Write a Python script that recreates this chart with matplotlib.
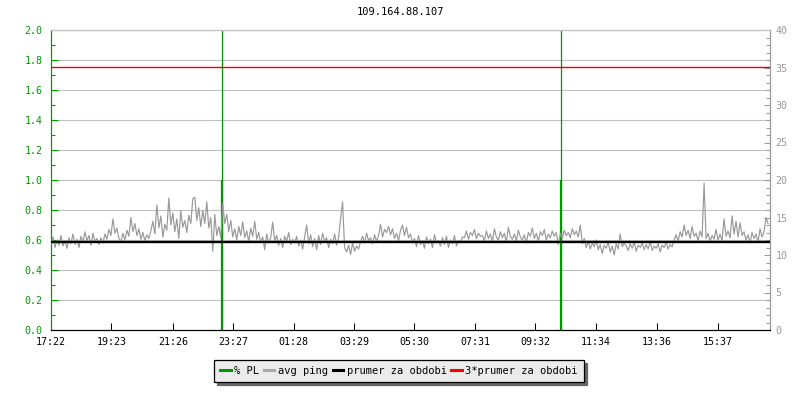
import numpy as np
import matplotlib
matplotlib.use("Agg")
import matplotlib.pyplot as plt
from matplotlib.lines import Line2D
from matplotlib.ticker import MultipleLocator, FormatStrFormatter

plt.rcParams.update({
    "font.family": "DejaVu Sans Mono",
    "font.size": 7.2,
})

TITLE = "109.164.88.107"

# avg ping [ms], one sample every 4 minutes starting 17:22
ping = [
    # 17:22 - 19:46
    11.6, 12.4, 11.0, 12.0, 11.3, 12.6, 11.2, 11.9, 10.9, 12.3, 11.5, 12.8, 11.4, 12.1, 11.0, 12.5,
    11.7, 13.1, 11.9, 12.6, 11.3, 12.9, 11.8, 12.2, 11.4,
    12.3, 11.6, 12.8, 12.1, 13.4, 12.6, 14.8, 12.9, 13.6, 12.2, 11.8, 12.9, 12.0, 13.3, 12.5, 15.0,
    13.1, 14.2, 12.6, 13.5, 12.1, 13.0, 11.9, 12.7, 12.2,
    13.2, 14.5, 12.8, 16.7, 13.6, 15.2, 12.4, 14.1, 13.3, 17.6, 14.0, 15.6, 13.1, 14.8, 12.2, 15.9,
    13.7, 14.6, 13.0, 15.3, 14.2, 17.5,
    # 19:46 - 22:10
    17.7, 14.6, 16.3, 13.8, 15.9, 14.2, 17.1, 13.6, 15.0, 10.5, 15.4, 12.6, 13.8, 12.3,
    16.8, 14.2, 15.4,
    13.1, 14.6, 12.4, 13.5, 12.0, 13.8, 12.6, 14.4, 12.3, 13.2, 11.8, 13.6, 12.5, 14.5, 12.1, 13.0, 11.7,
    12.4, 10.7, 12.8, 11.6, 12.3, 14.4, 11.9, 12.6, 11.3, 12.2, 11.0, 12.5, 11.8, 13.0, 11.4, 12.1,
    11.6, 12.5, 11.2, 12.0, 10.8, 12.4, 14.0, 11.5, 12.7, 11.1, 12.2, 10.7, 12.6, 11.4, 12.9, 11.8,
    12.3, 11.0, 12.1, 11.5, 12.8, 11.3,
    # 22:10 - 00:34
    12.3, 14.9, 17.1,
    11.0, 10.4, 11.3, 10.1, 11.6, 10.5, 11.2, 10.8,
    11.8, 12.5, 11.6, 12.9, 11.9, 12.3, 11.5, 12.7, 11.8,
    12.6, 14.1, 12.4, 13.4, 13.0, 13.8, 12.7, 13.5, 12.2, 12.9, 11.9, 13.3, 14.0, 12.6, 13.7, 12.3, 12.8,
    11.6, 12.2, 11.1, 12.6, 11.4, 11.9, 10.9, 12.4, 11.5, 12.1, 11.0, 12.7, 11.6, 11.9, 11.2, 12.3,
    11.4, 12.5, 11.0, 12.0, 11.5, 12.6, 11.2, 11.9, 11.6, 12.4,
    12.3, 13.2, 12.1, 13.0, 12.6, 13.4, 12.2, 12.9, 12.5,
    # 00:34 - 02:58
    12.6, 11.9, 13.2, 12.2, 12.8, 11.8, 13.5, 12.4, 12.0, 13.1, 12.3, 12.9, 11.7, 13.7, 12.5, 12.1,
    12.8, 11.9, 13.3, 12.4, 12.0, 12.7, 11.6, 13.0, 12.5, 13.6, 12.2, 12.9, 11.8, 13.1, 12.6, 13.4,
    12.0, 12.8, 12.3, 13.2, 12.5, 13.0,
    11.4, 12.9, 12.2, 13.3, 12.6, 13.0, 12.3, 13.5, 12.7, 13.2, 12.4, 14.0,
    11.5, 12.2, 11.0, 11.8, 10.8, 11.6, 11.1, 12.0, 10.7, 11.4, 10.2, 11.3, 10.9, 11.7, 10.4, 11.2,
    10.0, 11.5, 10.8, 12.8, 11.1, 11.6,
    # 02:58 - 05:22
    11.2, 10.6, 11.5, 10.9, 11.7, 10.5, 11.3, 11.0, 11.6, 10.7, 11.4, 10.8, 11.8, 10.6, 11.2, 10.9,
    11.5, 10.4, 11.3, 11.0, 11.7, 10.8, 11.4, 11.1,
    12.0, 12.7, 11.8, 13.1, 12.4, 14.0, 12.6, 13.3, 12.2, 13.8, 12.5, 12.9, 11.9, 13.2, 12.4,
    19.6,
    12.2, 12.9, 11.8, 12.6, 12.1, 13.4, 12.0, 12.8, 11.9, 14.8, 12.5, 13.2, 12.3, 15.2, 12.8, 14.5,
    12.4, 14.3, 12.6, 13.1, 12.0, 12.7, 11.6, 13.0, 12.2, 12.8, 11.7, 13.5, 12.4, 13.1, 15.0, 14.2,
]
ping_step = 4          # minutes between samples
span = 1440            # minutes shown

pl_times = [343, 1021]     # minutes after 17:22
pl_values = [1.0, 1.0]     # % packet loss

avg_ping = 11.7

tick_minutes = [0, 121, 244, 365, 486, 607, 728, 849, 970, 1092, 1214, 1335]
tick_labels = ["17:22", "19:23", "21:26", "23:27", "01:28", "03:29",
               "05:30", "07:31", "09:32", "11:34", "13:36", "15:37"]

GREEN = "#009900"
GRAY = "#999999"
GRID = "#c0c0c0"

fig = plt.figure(figsize=(8, 4), dpi=100)
ax = fig.add_axes([51 / 800, 70 / 400, 719 / 800, 300 / 400])
ax2 = ax.twinx()

# packet loss (left axis)
ax.vlines(pl_times, 0, 2.0, color=GREEN, lw=0.9, zorder=2)
ax.vlines(pl_times, 0, pl_values, color=GREEN, lw=1.6, zorder=2)
ax.set_ylim(0, 2.0)
ax.set_xlim(0, span)
ax.yaxis.set_major_locator(MultipleLocator(0.2))
ax.yaxis.set_minor_locator(MultipleLocator(0.1))
ax.yaxis.set_major_formatter(FormatStrFormatter("%.1f"))
ax.grid(axis="y", color=GRID, lw=0.8, zorder=0)
ax.set_axisbelow(True)
ax.tick_params(axis="y", which="major", direction="in", length=5, width=0.75,
               color=GREEN, labelcolor=GREEN, pad=6)
ax.tick_params(axis="y", which="minor", direction="in", length=3, width=0.75, color=GREEN)
ax.set_xticks(tick_minutes)
ax.set_xticklabels(tick_labels)
ax.tick_params(axis="x", direction="in", length=5, width=0.75, color="black", pad=5)

# ping (right axis)
t = np.arange(len(ping)) * ping_step
ax2.plot(t, ping, color=GRAY, lw=0.85, zorder=3)
ax2.axhline(avg_ping, color="black", lw=1.7, zorder=4)
ax2.axhline(3 * avg_ping, color="#ee0000", lw=1.0, zorder=4)
ax2.set_ylim(0, 40)
ax2.yaxis.set_major_locator(MultipleLocator(5))
ax2.yaxis.set_minor_locator(MultipleLocator(1))
ax2.tick_params(axis="y", which="major", direction="in", length=4, width=0.75,
                color=GRAY, labelcolor=GRAY, pad=4)
ax2.tick_params(axis="y", which="minor", direction="in", length=3, width=0.75, color=GRAY)

for a in (ax, ax2):
    a.spines["left"].set_color(GREEN)
    a.spines["right"].set_color(GRAY)
    a.spines["top"].set_color(GRID)
    a.spines["bottom"].set_color("black")
    for s in a.spines.values():
        s.set_linewidth(0.8)

fig.text(0.5, 1 - 12 / 400, TITLE, ha="center", va="center", fontsize=7.5)

handles = [
    Line2D([], [], color=GREEN, lw=2.2),
    Line2D([], [], color="#aaaaaa", lw=2.2),
    Line2D([], [], color="black", lw=2.2),
    Line2D([], [], color="#ff0000", lw=2.2),
]
labels = ["% PL", "avg ping", "prumer za obdobi", "3*prumer za obdobi"]
leg = fig.legend(handles, labels, loc="center", bbox_to_anchor=(399 / 800, 1 - 371 / 400),
                 ncol=4, fancybox=False, frameon=True, edgecolor="black",
                 facecolor="#ebebeb", framealpha=1, borderpad=0.6,
                 handlelength=1.0, handletextpad=0.35, columnspacing=0.45,
                 shadow={"color": "#666666", "alpha": 1}, fontsize=7.5)
leg.get_frame().set_linewidth(0.9)

fig.savefig("out.png", dpi=100)
